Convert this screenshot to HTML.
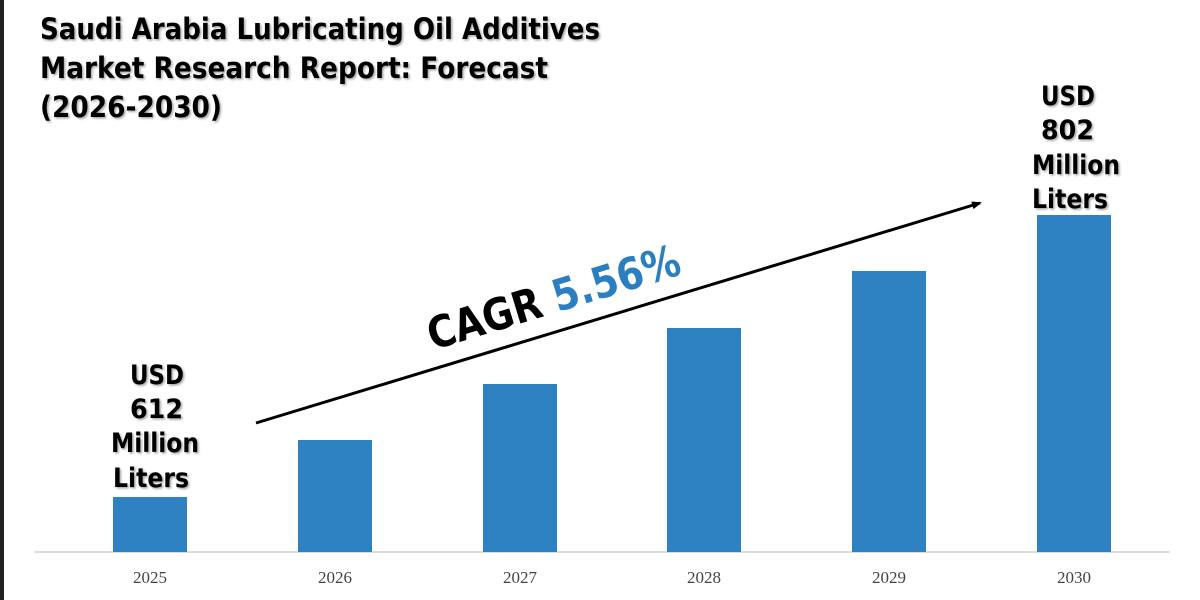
<!DOCTYPE html>
<html><head><meta charset="utf-8"><style>
html,body{margin:0;padding:0;background:#fff;}
svg{display:block;}
</style></head><body>
<svg width="1200" height="600" viewBox="0 0 1200 600" xmlns="http://www.w3.org/2000/svg">
<defs>
<filter id="sh" x="-5%" y="-5%" width="110%" height="120%"><feDropShadow dx="1.5" dy="1.5" stdDeviation="1" flood-color="#000" flood-opacity="0.35"/></filter>
<marker id="ah" markerWidth="10" markerHeight="10" refX="8" refY="5" orient="auto" markerUnits="userSpaceOnUse"><path d="M0,1 L10,5 L0,9 Z" fill="#000"/></marker>
</defs>
<rect x="0" y="0" width="4" height="600" fill="#222"/>
<g font-family="'DejaVu Sans','Liberation Sans',sans-serif" font-weight="bold" font-size="29" fill="#000" filter="url(#sh)">
<text x="40" y="39" textLength="560" lengthAdjust="spacingAndGlyphs">Saudi Arabia Lubricating Oil Additives</text>
<text x="40" y="78" textLength="508" lengthAdjust="spacingAndGlyphs">Market Research Report: Forecast</text>
<text x="40" y="117" textLength="182" lengthAdjust="spacingAndGlyphs">(2026-2030)</text>
</g>
<line x1="35" y1="552" x2="1170" y2="552" stroke="#d0d0d0" stroke-width="1.5"/>
<g fill="#2e82c2">
<rect x="113" y="497" width="74" height="55"/>
<rect x="298" y="440" width="74" height="112"/>
<rect x="483" y="384" width="74" height="168"/>
<rect x="667" y="328" width="74" height="224"/>
<rect x="852" y="271" width="74" height="281"/>
<rect x="1037" y="215" width="74" height="337"/>
</g>
<g font-family="'Liberation Serif',serif" font-size="17" fill="#444" text-anchor="middle">
<text x="150" y="583">2025</text><text x="335" y="583">2026</text><text x="520" y="583">2027</text>
<text x="704" y="583">2028</text><text x="889" y="583">2029</text><text x="1074" y="583">2030</text>
</g>
<line x1="256" y1="423" x2="980" y2="203" stroke="#000" stroke-width="3" marker-end="url(#ah)"/>
<g font-family="'DejaVu Sans','Liberation Sans',sans-serif" font-weight="bold" font-size="27" fill="#000" filter="url(#sh)">
<text x="130" y="384" textLength="54" lengthAdjust="spacingAndGlyphs">USD</text>
<text x="130" y="418" textLength="53" lengthAdjust="spacingAndGlyphs">612</text>
<text x="111" y="452" textLength="88" lengthAdjust="spacingAndGlyphs">Million</text>
<text x="113" y="487" textLength="76" lengthAdjust="spacingAndGlyphs">Liters</text>
<text x="1041" y="105" textLength="54" lengthAdjust="spacingAndGlyphs">USD</text>
<text x="1041" y="139" textLength="53" lengthAdjust="spacingAndGlyphs">802</text>
<text x="1032" y="174" textLength="88" lengthAdjust="spacingAndGlyphs">Million</text>
<text x="1032" y="208" textLength="76" lengthAdjust="spacingAndGlyphs">Liters</text>
</g>
<g transform="translate(558,312) rotate(-17)" font-family="'DejaVu Sans','Liberation Sans',sans-serif" font-weight="bold" font-size="44" text-anchor="middle">
<text x="0" y="0" textLength="262" lengthAdjust="spacingAndGlyphs"><tspan fill="#000">CAGR </tspan><tspan fill="#2a7fc0">5.56%</tspan></text>
</g>
</svg>
</body></html>
